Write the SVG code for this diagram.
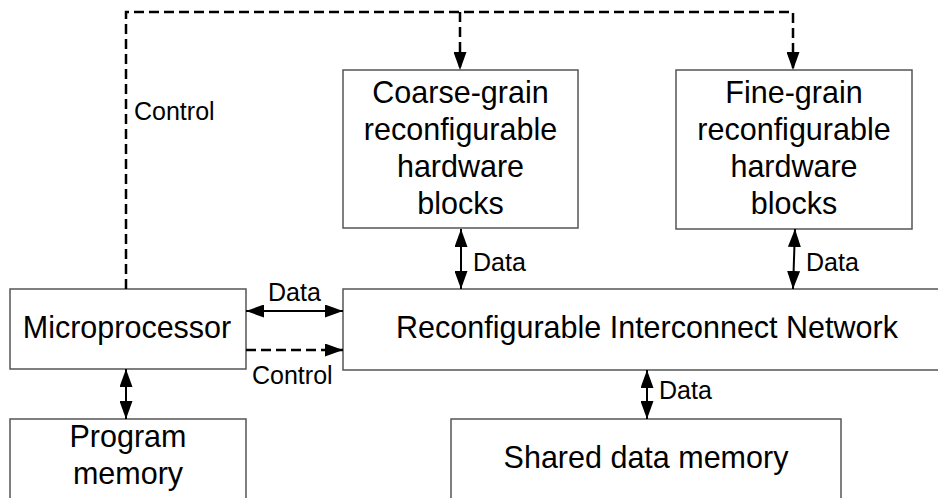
<svg xmlns="http://www.w3.org/2000/svg" width="938" height="498" viewBox="0 0 938 498">
<style>
.box{fill:#fff;stroke:#555;stroke-width:1.5}
.t{font-family:"Liberation Sans",Arial,sans-serif;font-size:30.5px;fill:#000;text-anchor:middle}
.l{font-family:"Liberation Sans",Arial,sans-serif;font-size:25px;fill:#000}
.c{fill:none;stroke:#000;stroke-width:2}
.d{stroke-dasharray:10,5;stroke-width:2.5}
</style>
<defs>
<marker id="arr" markerUnits="userSpaceOnUse" markerWidth="18" markerHeight="13" refX="18" refY="6.5" orient="auto-start-reverse">
<path d="M0,0 L18,6.5 L0,13 z" fill="#000"/>
</marker>
</defs>
<rect width="938" height="498" fill="#fff"/>
<g id="coarse">
<rect class="box" x="343" y="70" width="235" height="158"/>
<text class="t" x="460.5" y="103">Coarse-grain</text>
<text class="t" x="460.5" y="140">reconfigurable</text>
<text class="t" x="460.5" y="177">hardware</text>
<text class="t" x="460.5" y="214">blocks</text>
</g>
<g id="fine">
<rect class="box" x="676" y="70" width="236" height="159"/>
<text class="t" x="794" y="103">Fine-grain</text>
<text class="t" x="794" y="140">reconfigurable</text>
<text class="t" x="794" y="177">hardware</text>
<text class="t" x="794" y="214">blocks</text>
</g>
<g id="micro">
<rect class="box" x="10" y="289" width="236" height="80"/>
<text class="t" x="127" y="338">Microprocessor</text>
</g>
<g id="network">
<rect class="box" x="343" y="289" width="605" height="81"/>
<text class="t" x="647" y="338">Reconfigurable Interconnect Network</text>
</g>
<g id="progmem">
<rect class="box" x="10" y="419" width="236" height="90"/>
<text class="t" x="128" y="447">Program</text>
<text class="t" x="128" y="484">memory</text>
</g>
<g id="shared">
<rect class="box" x="451" y="419" width="390" height="90"/>
<text class="t" x="646" y="468">Shared data memory</text>
</g>
<g id="connectors">
<path class="c d" d="M126,289 V12 H793 V70" marker-end="url(#arr)"/>
<path class="c d" d="M460,12 V70" marker-end="url(#arr)"/>
<path class="c" d="M461,229 V289" marker-start="url(#arr)" marker-end="url(#arr)"/>
<path class="c" d="M795,229 L793,289" marker-start="url(#arr)" marker-end="url(#arr)"/>
<path class="c" d="M647,370 V419" marker-start="url(#arr)" marker-end="url(#arr)"/>
<path class="c" d="M246,311 H343" marker-start="url(#arr)" marker-end="url(#arr)"/>
<path class="c d" d="M246,350 H343" marker-end="url(#arr)"/>
<path class="c" d="M126,369 V419" marker-start="url(#arr)" marker-end="url(#arr)"/>
<text class="l" x="134" y="120">Control</text>
<text class="l" x="268" y="301">Data</text>
<text class="l" x="252" y="384">Control</text>
<text class="l" x="473" y="271">Data</text>
<text class="l" x="806" y="271">Data</text>
<text class="l" x="659" y="399">Data</text>
</g>
</svg>
